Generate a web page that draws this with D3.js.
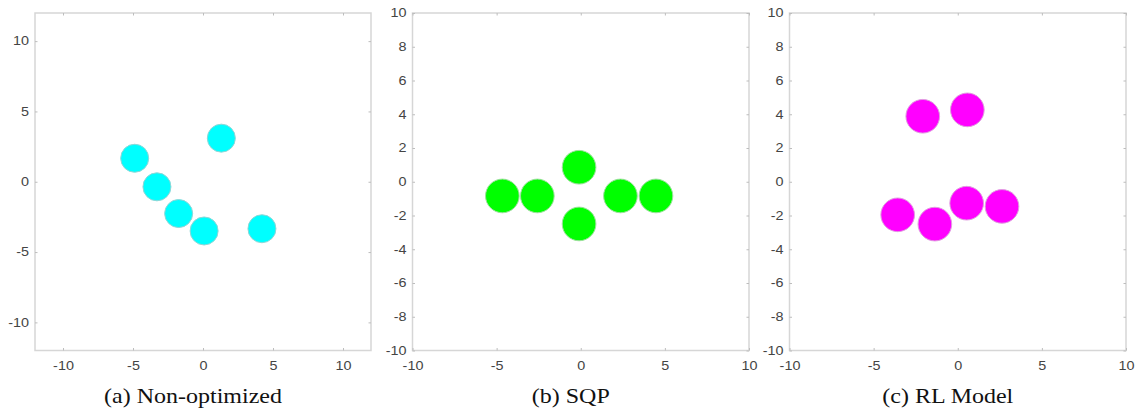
<!DOCTYPE html>
<html>
<head>
<meta charset="utf-8">
<script src="https://cdn.jsdelivr.net/npm/d3@7"></script>
<style>
  html, body { margin: 0; padding: 0; background: #fff; }
  svg { display: block; }
</style>
</head>
<body>
<svg id="chart" width="1138" height="413"></svg>
<script>
// ---- data ----
const captions = ["(a) Non-optimized", "(b) SQP", "(c) RL Model"];
const domainA = [-12, 12];
const domainBC = [-10, 10];
const xTicksA = [-10, -5, 0, 5, 10];
const yTicksA = [-10, -5, 0, 5, 10];
const xTicksBC = [-10, -5, 0, 5, 10];
const yTicksBC = [-10, -8, -6, -4, -2, 0, 2, 4, 6, 8, 10];
const radius = 1;
const nonOptX = [-4.88, 1.31, -3.29, -1.74, 0.08, 4.21];
const nonOptY = [1.67, 3.1, -0.36, -2.26, -3.5, -3.34];
const sqpX = [-4.66, -2.58, -0.1, -0.1, 2.36, 4.47];
const sqpY = [-0.84, -0.84, 0.86, -2.5, -0.84, -0.84];
const rlX = [-2.08, 0.57, -3.57, -1.36, 0.53, 2.63];
const rlY = [3.88, 4.26, -1.96, -2.51, -1.27, -1.46];

const panels = [
  {x0: 35,    x1: 371,  dom: domainA,  xt: xTicksA,  yt: yTicksA,  xs: nonOptX, ys: nonOptY, fill: "#00ffff", stroke: "#8fd6d6", cap: captions[0]},
  {x0: 412.5, x1: 749,  dom: domainBC, xt: xTicksBC, yt: yTicksBC, xs: sqpX,    ys: sqpY,    fill: "#00ff00", stroke: "#9ee09e", cap: captions[1]},
  {x0: 789.5, x1: 1126, dom: domainBC, xt: xTicksBC, yt: yTicksBC, xs: rlX,     ys: rlY,     fill: "#ff00ff", stroke: "#e09ee0", cap: captions[2]}
];
const y0 = 13, y1 = 350.5;

const svg = d3.select("#chart");
const SX = 1.2; // horizontal text stretch seen in the reference
const fmt = d => String(d); // plain hyphen minus, as in the reference

panels.forEach(p => {
  const x = d3.scaleLinear().domain(p.dom).range([p.x0, p.x1]);
  const y = d3.scaleLinear().domain(p.dom).range([y1, y0]);
  const g = svg.append("g");

  // box
  g.append("rect")
    .attr("x", p.x0).attr("y", y0)
    .attr("width", p.x1 - p.x0).attr("height", y1 - y0)
    .attr("fill", "none").attr("stroke", "#d6d6d6").attr("stroke-width", 1.5);

  const styleAxis = (sel, isY) => {
    sel.select(".domain").remove();
    sel.selectAll(".tick line").attr("stroke", "#bdbdbd").attr("stroke-width", 1);
    sel.selectAll(".tick text")
      .attr("fill", "#444")
      .style("font-family", "'Liberation Sans', Arial, sans-serif")
      .style("font-size", "12px")
      .attr("transform", `scale(${SX},1)`);
    if (isY) sel.selectAll(".tick text").attr("x", -5);
  };

  // bottom axis (labels + inner ticks)
  g.append("g").attr("transform", `translate(0,${y1})`)
    .call(d3.axisBottom(x).tickValues(p.xt).tickSizeInner(-2.5).tickSizeOuter(0).tickPadding(10.5).tickFormat(fmt))
    .call(s => styleAxis(s, false));
  // left axis
  g.append("g").attr("transform", `translate(${p.x0},0)`)
    .call(d3.axisLeft(y).tickValues(p.yt).tickSizeInner(-2.5).tickSizeOuter(0).tickPadding(5).tickFormat(fmt))
    .call(s => styleAxis(s, true));
  // mirrored ticks top and right
  g.append("g").attr("transform", `translate(0,${y0})`)
    .call(d3.axisTop(x).tickValues(p.xt).tickSizeInner(-2.5).tickSizeOuter(0).tickFormat(""))
    .call(s => { s.select(".domain").remove(); s.selectAll(".tick line").attr("stroke", "#bdbdbd"); });
  g.append("g").attr("transform", `translate(${p.x1},0)`)
    .call(d3.axisRight(y).tickValues(p.yt).tickSizeInner(-2.5).tickSizeOuter(0).tickFormat(""))
    .call(s => { s.select(".domain").remove(); s.selectAll(".tick line").attr("stroke", "#bdbdbd"); });

  // circles
  const r = x(radius) - x(0);
  const pts = p.xs.map((v, i) => ({x: v, y: p.ys[i]}));
  g.selectAll("circle.pt").data(pts).enter().append("circle")
    .attr("class", "pt")
    .attr("cx", d => x(d.x)).attr("cy", d => y(d.y)).attr("r", r)
    .attr("fill", p.fill).attr("stroke", p.stroke).attr("stroke-width", 1);

  // caption
  const cx = (p.x0 + p.x1) / 2 - 10;
  g.append("text")
    .attr("transform", `translate(${cx},403) scale(${SX},1)`)
    .attr("text-anchor", "middle")
    .attr("fill", "#111")
    .style("font-family", "'Liberation Serif', 'Times New Roman', serif")
    .style("font-size", "20px")
    .text(p.cap);
});
</script>
</body>
</html>
